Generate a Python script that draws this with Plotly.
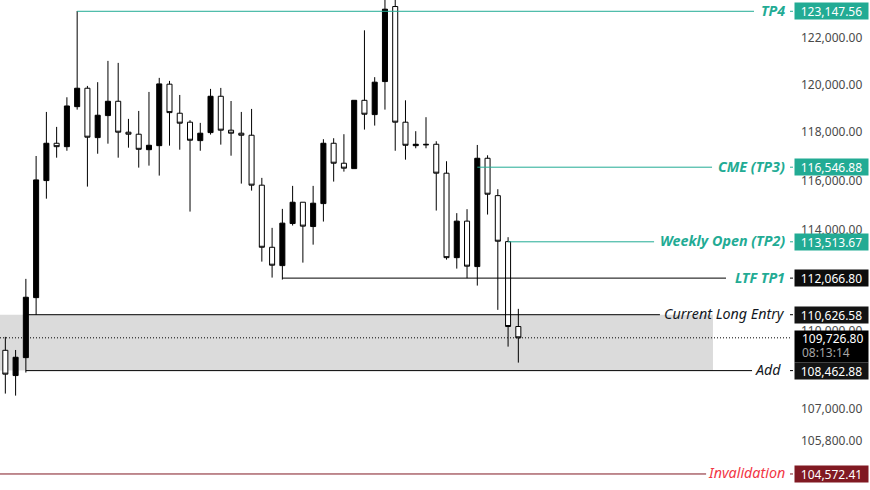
import math
import plotly.graph_objects as go

# candles (black = up, white = down)
opens = [109244, 108273, 108961, 111296, 115996, 117537, 117395, 119067, 119845, 117771,
         118691, 119293, 117997, 117913, 117270, 117437, 120016, 118791, 118415, 117646,
         117980, 119505, 118080, 117955, 117871, 115808, 113295, 112563, 114249, 115113,
         114127, 115057, 117537, 116710, 116488, 119334, 118733, 120127, 123355, 118415,
         117437, 117495, 117495, 116300, 112880, 114346, 112524, 116915, 115381, 113521,
         110166]
highs = [109764, 109257, 112037, 117009, 118845, 118218, 119462, 123160, 119943, 120101,
         121008, 120923, 118553, 118887, 119688, 120284, 120156, 119560, 118498, 118386,
         119816, 119858, 119305, 118845, 118971, 116107, 114075, 114842, 115779, 115113,
         115779, 117704, 117746, 117913, 119334, 122323, 120314, 124200, 124200, 119334,
         118039, 118624, 117620, 116792, 114669, 114830, 117466, 117038, 115644, 113699,
         110856]
lows = [107586, 107509, 108388, 110622, 115258, 116939, 117226, 118942, 115750, 117103,
        117520, 116939, 117353, 116529, 116611, 116201, 117437, 117270, 114733, 117226,
        117897, 117479, 117021, 115873, 115586, 112722, 112088, 112009, 114168, 112682,
        113400, 114329, 115955, 116365, 116488, 118106, 118273, 118942, 117226, 116857,
        117328, 117328, 114774, 112801, 112444, 112064, 111771, 114612, 110817, 109386,
        108770]
closes = [108327, 108976, 111312, 116025, 117537, 117395, 119096, 119845, 117788, 118707,
          119293, 117997, 117913, 117286, 117453, 120029, 118816, 118373, 117662, 117955,
          119505, 118080, 117955, 117871, 115808, 113295, 112579, 114265, 115113, 114143,
          115073, 117537, 116710, 116505, 119334, 118749, 120101, 123239, 118415, 117453,
          117495, 117474, 116300, 112880, 114346, 112540, 116915, 115439, 113537, 110166,
          109726.80]
candle_x = list(range(len(closes)))

# price levels
level_names = ["TP4", "CME (TP3)", "Weekly Open (TP2)", "LTF TP1", "Current Long Entry", "Add", "Invalidation"]
level_prices = [123147.56, 116546.88, 113513.67, 112066.80, 110626.58, 108462.88, 104572.41]
level_starts = [7, 46, 49, 27, 2, 2, -0.52]
level_ends = [72.97, 68.88, 63.23, 70.24, 63.8, 72.78, 68.3]
level_text_x = [76.2, 76.2, 76.2, 76.2, 76.2, 75.8, 76.2]
level_line_colors = ["#22ab94", "#22ab94", "#22ab94", "#000000", "#000000", "#000000", "#801922"]
level_text_colors = ["#22ab94", "#22ab94", "#22ab94", "#22ab94", "#131722", "#131722", "#f23645"]
level_text_bold = [True, True, True, True, False, False, False]
level_box_colors = ["#22ab94", "#22ab94", "#22ab94", "#0d0d0d", "#131313", "#131313", "#801922"]

last_price = 109726.80
countdown = "08:13:14"

tick_vals = [122000, 120000, 118000, 116000, 114000, 110000, 107000, 105800]
tick_text = ["122,000.00", "120,000.00", "118,000.00", "116,000.00", "114,000.00",
             "110,000.00", "107,000.00", "105,800.00"]

FONT = "Noto Sans"
X_RANGE = [-0.52, 76.77]
Y_RANGE = [math.log10(103982), math.log10(123640)]
PLOT_W = 793

fig = go.Figure()

# lines go first so the candles sit on top of them
for i in range(len(level_names)):
    fig.add_trace(go.Scatter(x=[level_starts[i], level_ends[i]], y=[level_prices[i]] * 2,
                             mode="lines", line=dict(color=level_line_colors[i], width=1),
                             hoverinfo="skip", showlegend=False))

fig.add_trace(go.Scatter(x=[X_RANGE[0], 76.6], y=[last_price, last_price], mode="lines",
                         line=dict(color="#000000", width=1, dash="1px 2px"),
                         hoverinfo="skip", showlegend=False))

fig.add_trace(go.Candlestick(x=candle_x, open=opens, high=highs, low=lows, close=closes,
                             increasing=dict(line=dict(color="#000000", width=1), fillcolor="#000000"),
                             decreasing=dict(line=dict(color="#000000", width=1), fillcolor="#ffffff"),
                             whiskerwidth=0, showlegend=False))

# grey zone between entry and add
fig.add_shape(type="rect", x0=X_RANGE[0], x1=68.97, y0=level_prices[5], y1=level_prices[4],
              fillcolor="#dbdbdb", line_width=0, layer="below")

for i in range(len(level_names)):
    y_log = math.log10(level_prices[i])
    name = level_names[i]
    if level_text_bold[i]:
        name = "<b>" + name + "</b>"
    fig.add_annotation(xref="x", yref="y", x=level_text_x[i], y=y_log, text="<i>" + name + "</i>",
                       showarrow=False, xanchor="right", yanchor="middle", yshift=1,
                       font=dict(family=FONT, size=14.3, color=level_text_colors[i]))
    # small tick next to the price box
    fig.add_shape(type="line", xref="paper", yref="y", x0=790 / PLOT_W, x1=1,
                  y0=level_prices[i], y1=level_prices[i],
                  line=dict(color=level_line_colors[i], width=1))
    fig.add_annotation(xref="paper", yref="y", x=794 / PLOT_W, y=y_log, text=f"{level_prices[i]:,.2f}",
                       showarrow=False, xanchor="left", yanchor="middle", width=73, height=16,
                       bgcolor=level_box_colors[i], borderpad=0,
                       font=dict(family=FONT, size=12, color="#ffffff"))

# last price box with the countdown under it
fig.add_annotation(xref="paper", yref="y", x=794 / PLOT_W, y=math.log10(last_price),
                   text="<b> </b>", showarrow=False, xanchor="left", yanchor="top", yshift=8,
                   width=73, height=31, bgcolor="#000000", borderpad=0)
fig.add_annotation(xref="paper", yref="y", x=801 / PLOT_W, y=math.log10(last_price),
                   text=f"{last_price:,.2f}", showarrow=False, xanchor="left", yanchor="top", yshift=9,
                   borderpad=0, font=dict(family=FONT, size=12, color="#ffffff"))
fig.add_annotation(xref="paper", yref="y", x=801 / PLOT_W, y=math.log10(last_price),
                   text=countdown, showarrow=False, xanchor="left", yanchor="top", yshift=-5,
                   borderpad=0, font=dict(family=FONT, size=12, color="#a6a6a6"))

fig.update_layout(width=870, height=490, margin=dict(l=0, r=77, t=0, b=0),
                  paper_bgcolor="#ffffff", plot_bgcolor="#ffffff", showlegend=False,
                  font=dict(family=FONT))
fig.update_xaxes(range=X_RANGE, visible=False, rangeslider_visible=False, showgrid=False)
fig.update_yaxes(type="log", range=Y_RANGE, side="right", showgrid=False, zeroline=False, showline=False,
                 tickmode="array", tickvals=tick_vals, ticktext=tick_text, ticks="",
                 ticklabelstandoff=7, tickfont=dict(family=FONT, size=12, color="#4a4a4a"))

fig.write_html("out.html", post_script="document.body.style.margin='0';",
               config=dict(displayModeBar=False))
